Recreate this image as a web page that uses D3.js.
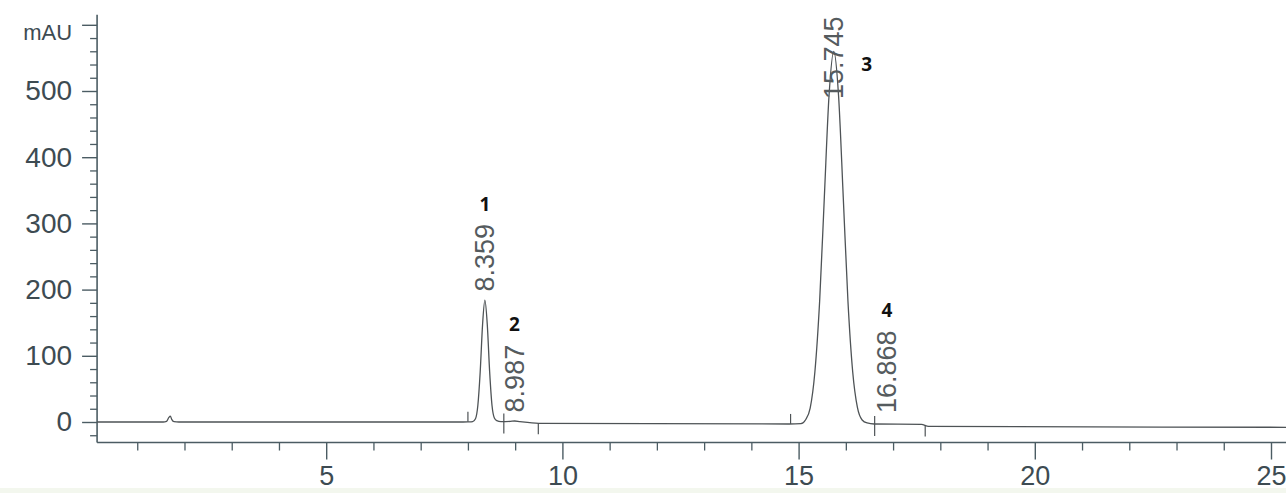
<!DOCTYPE html>
<html>
<head>
<meta charset="utf-8">
<script src="https://cdn.jsdelivr.net/npm/d3@7"></script>
<style>
  body { margin: 0; background: #ffffff; }
  svg { display: block; font-family: "Liberation Sans", Arial, sans-serif; }
  .tickText { fill: #3d4b52; font-size: 28px; }
  .xTickText { fill: #3d4b52; font-size: 27px; }
  .rtText { fill: #555b5e; font-size: 27px; }
  .peakNum { fill: #111111; font-size: 19px; font-weight: bold; font-family: "Open Sans", "Liberation Sans", sans-serif; }
</style>
</head>
<body>
<div id="chart"></div>
<script>
// data
var xTicks = [5, 10, 15, 20, 25];
var yTicks = [0, 100, 200, 300, 400, 500];
var yUnitLabel = "mAU";
var yUnitValue = 600;

// retention times, peak heights (mAU) and peak numbers
var peakTimes = [8.359, 8.987, 15.745, 16.868];
var peakHeights = [184, 1.5, 560, 0.5];
var peakNumbers = ["1", "2", "3", "4"];

// integration marks on the trace: time and kind
var markTimes = [8.0, 8.76, 9.49, 14.83, 16.61, 17.68];
var markKinds = ["up", "cross", "down", "up", "cross", "down"];

// detector trace, time (min) and absorbance (mAU)
var traceTime = [0.15, 1.55, 1.62, 1.67, 1.70, 1.73, 1.78, 1.88,
  7.9, 8.0, 8.10, 8.16, 8.21, 8.26, 8.31, 8.359, 8.41, 8.46, 8.51, 8.56, 8.61, 8.70,
  8.9, 8.99, 9.1, 9.5,
  14.8, 15.05, 15.145, 15.245, 15.345, 15.445, 15.545, 15.645, 15.745,
  15.845, 15.945, 16.045, 16.145, 16.245, 16.345, 16.45, 16.6,
  17.6, 17.75, 25.35];
var traceValue = [0, 0, 1, 7, 9, 4, 0.5, 0,
  0, 0.2, 0.7, 5, 25, 76, 147, 184, 147, 76, 25, 6, 2, 0.5,
  1, 1.5, 0.5, -2,
  -3, -2.5, 3, 21, 76, 182, 340, 494, 560,
  494, 340, 182, 76, 22, 3, -1.5, -3,
  -3.5, -6.5, -8];

var width = 1286;
var height = 493;

var svg = d3.select("#chart")
    .append("svg")
    .attr("width", width)
    .attr("height", height);

// faint scan edge at the bottom
svg.append("rect")
    .attr("x", 0)
    .attr("y", 488)
    .attr("width", width)
    .attr("height", 5)
    .attr("fill", "#f3f7ee");

var xScale = d3.scaleLinear()
    .domain([0, 25])
    .range([90, 1271]);

var yScale = d3.scaleLinear()
    .domain([0, 600])
    .range([422, 24.8]);

var axisColor = "#4b5c63";
var xAxisY = yScale(-31);
var yAxisX = xScale(0.15);

// y axis minor ticks
var yMinor = d3.range(-20, 601, 20).filter(function(d) { return d % 100 !== 0; });
var yMinorAxis = d3.axisLeft(yScale).tickValues(yMinor).tickSize(7).tickFormat("");
svg.append("g")
    .attr("transform", `translate(${yAxisX}, 0)`)
    .call(yMinorAxis)
    .call(function(g) { g.select(".domain").remove(); })
    .selectAll("line").attr("stroke", axisColor).attr("stroke-width", 1.3);

// y axis major ticks and labels
var yAxis = d3.axisLeft(yScale).tickValues(yTicks.concat([yUnitValue])).tickSize(15).tickPadding(10)
    .tickFormat(function(d) { return d === yUnitValue ? "" : d; });
var yG = svg.append("g")
    .attr("transform", `translate(${yAxisX}, 0)`)
    .call(yAxis);
yG.select(".domain").remove();
yG.selectAll("line").attr("stroke", axisColor).attr("stroke-width", 1.4);
yG.selectAll("text")
    .attr("class", "tickText")
    .attr("font-family", null)
    .attr("font-size", null)
    .attr("fill", null);

svg.append("text")
    .attr("class", "tickText")
    .attr("x", yAxisX - 25)
    .attr("y", yScale(yUnitValue) + 7)
    .attr("dy", "0.35em")
    .attr("text-anchor", "end")
    .style("font-size", "22px")
    .text(yUnitLabel);

// y axis line
svg.append("line")
    .attr("x1", yAxisX).attr("x2", yAxisX)
    .attr("y1", yScale(615)).attr("y2", xAxisY)
    .attr("stroke", axisColor)
    .attr("stroke-width", 1.6);

// x axis minor ticks
var xMinor = d3.range(1, 26).filter(function(d) { return d % 5 !== 0; });
var xMinorAxis = d3.axisBottom(xScale).tickValues(xMinor).tickSize(8).tickFormat("");
svg.append("g")
    .attr("transform", `translate(0, ${xAxisY})`)
    .call(xMinorAxis)
    .call(function(g) { g.select(".domain").remove(); })
    .selectAll("line").attr("stroke", axisColor).attr("stroke-width", 1.3);

// x axis major ticks and labels
var xAxis = d3.axisBottom(xScale).tickValues(xTicks).tickSize(17).tickPadding(6);
var xG = svg.append("g")
    .attr("transform", `translate(0, ${xAxisY})`)
    .call(xAxis);
xG.select(".domain").remove();
xG.selectAll("line").attr("stroke", axisColor).attr("stroke-width", 1.4);
xG.selectAll("text")
    .attr("class", "xTickText")
    .attr("font-family", null)
    .attr("font-size", null)
    .attr("fill", null);

// x axis line
svg.append("line")
    .attr("x1", yAxisX).attr("x2", width)
    .attr("y1", xAxisY).attr("y2", xAxisY)
    .attr("stroke", axisColor)
    .attr("stroke-width", 1.6);

// trace
var traceData = traceTime.map(function(t, i) { return { t: t, v: traceValue[i] }; });
var traceLine = d3.line()
    .x(function(d) { return xScale(d.t); })
    .y(function(d) { return yScale(d.v); })
    .curve(d3.curveMonotoneX);

svg.append("path")
    .datum(traceData)
    .attr("d", traceLine)
    .attr("fill", "none")
    .attr("stroke", "#4e5356")
    .attr("stroke-width", 1.3);

// integration marks
function traceAt(t) {
  var i = d3.bisectLeft(traceTime, t);
  if (i <= 0) return traceValue[0];
  var t0 = traceTime[i - 1], t1 = traceTime[i];
  var k = (t - t0) / (t1 - t0);
  return traceValue[i - 1] + k * (traceValue[i] - traceValue[i - 1]);
}

markTimes.forEach(function(t, i) {
  var base = yScale(traceAt(t));
  var top = base, bottom = base;
  if (markKinds[i] === "up") { top = base - 10; }
  if (markKinds[i] === "down") { bottom = base + 11; }
  if (markKinds[i] === "cross") { top = base - 8; bottom = base + 12; }
  svg.append("line")
      .attr("x1", xScale(t)).attr("x2", xScale(t))
      .attr("y1", top).attr("y2", bottom)
      .attr("stroke", "#4e5356")
      .attr("stroke-width", 1.2);
});

// retention time labels and peak numbers
peakTimes.forEach(function(t, i) {
  var px = xScale(t);
  var baseVal = Math.min(peakHeights[i], 475) + 13;
  var py = yScale(baseVal);
  var label = svg.append("text")
      .attr("class", "rtText")
      .attr("transform", `translate(${px}, ${py}) rotate(-90)`)
      .attr("dy", "0.35em")
      .text(t.toFixed(3));
  var len = label.node().getComputedTextLength();
  var topY = py - len;
  var nx = px, ny = topY - 20;
  if (ny < 40) {
    nx = px + 33;
    ny = topY + 48;
  }
  svg.append("text")
      .attr("class", "peakNum")
      .attr("x", nx)
      .attr("y", ny)
      .attr("dy", "0.35em")
      .attr("text-anchor", "middle")
      .text(peakNumbers[i]);
});
</script>
</body>
</html>
